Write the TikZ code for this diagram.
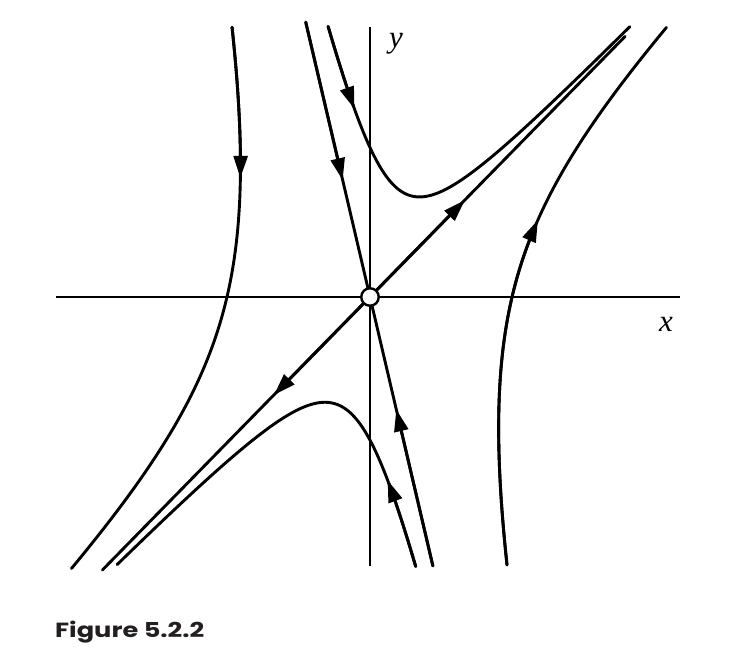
\documentclass[tikz,border=0pt]{standalone}
\usepackage{fontspec}
\setmainfont{Liberation Serif}
\newfontfamily\capfont{Poppins}
\usetikzlibrary{arrows.meta,calc}
\definecolor{capcol}{HTML}{231F20}
\begin{document}
\begin{tikzpicture}[x=1pt,y=-1pt,
  curve/.style={line width=2.9pt, line cap=round},
  axis/.style={line width=1.6pt},
  arr/.style={line width=2.9pt, -{Triangle[length=22pt,width=14pt]}},
  lab/.style={font=\itshape\fontsize{31}{31}\selectfont, inner sep=0pt},
  declare function={px(\s,\A,\B,\k)=370+\A*exp(\s)+\B*exp(-\k*\s);
                    py(\s,\A,\B,\k)=297-1.02*\A*exp(\s)+4.28*\B*exp(-\k*\s);}]
\useasboundingbox (0,0) rectangle (733,671);
% axes
\coordinate (xl) at (56,297);
\coordinate (xr) at (680,297);
\coordinate (yt) at (370,27);
\coordinate (yb) at (370,566);
\draw[axis] (xl) -- (xr);
\draw[axis] (yt) -- (yb);
% eigen-lines
\coordinate (O) at (370,297);
\coordinate (S1) at (305.7,22);
\coordinate (S2) at (432.9,566);
\coordinate (U1) at (102.4,570);
\coordinate (U2) at (625,36.5);
\draw[curve] (S1) -- (S2);
\draw[curve] (U1) -- (U2);
\draw[arr] (S1) -- ($(S1)!0.575!(O)$);
\draw[arr] (S2) -- ($(S2)!0.582!(O)$);
\draw[arr] (O) -- ($(O)!0.372!(U2)$);
\draw[arr] (O) -- ($(O)!0.359!(U1)$);
% upper trajectory
\draw[curve] plot[domain=-0.494:2.225, samples=120, smooth, variable=\s]
  ({px(\s,28.2,-28.2,1.5)},{py(\s,28.2,-28.2,1.5)});
\draw[arr] plot[domain=-0.494:-0.208, samples=20, smooth, variable=\s]
  ({px(\s,28.2,-28.2,1.5)},{py(\s,28.2,-28.2,1.5)});
% lower trajectory
\draw[curve] plot[domain=-0.661:2.245, samples=120, smooth, variable=\s]
  ({px(\s,-27,27,1.2)},{py(\s,-27,27,1.2)});
\draw[arr] plot[domain=-0.661:-0.284, samples=20, smooth, variable=\s]
  ({px(\s,-27,27,1.2)},{py(\s,-27,27,1.2)});
% left trajectory
\draw[curve] plot[domain=-0.647:0.93, samples=100, smooth, variable=\s]
  ({px(\s,-115.5,-27.52,1.6)},{py(\s,-115.5,-27.52,1.6)});
\draw[arr] plot[domain=-0.647:-0.34, samples=20, smooth, variable=\s]
  ({px(\s,-115.5,-27.52,1.6)},{py(\s,-115.5,-27.52,1.6)});
% right trajectory
\draw[curve] plot[domain=-0.647:0.93, samples=100, smooth, variable=\s]
  ({px(\s,114.7,27.33,1.6)},{py(\s,114.7,27.33,1.6)});
\draw[arr] plot[domain=-0.647:0.269, samples=30, smooth, variable=\s]
  ({px(\s,114.7,27.33,1.6)},{py(\s,114.7,27.33,1.6)});
% fixed point
\node[circle, draw, fill=white, line width=2.4pt, minimum size=17.5pt, inner sep=0pt] (fp) at (O) {};
% labels
\node[lab] (ylab) at (396,44) {y};
\node[lab] (xlab) at (666,324) {x};
\node[anchor=base west, inner sep=0pt, text=capcol] (cap) at (55,637)
  {\resizebox{149pt}{\height}{\capfont\bfseries\fontsize{20.5}{20.5}\selectfont Figure 5.2.2}};
\end{tikzpicture}
\end{document}
